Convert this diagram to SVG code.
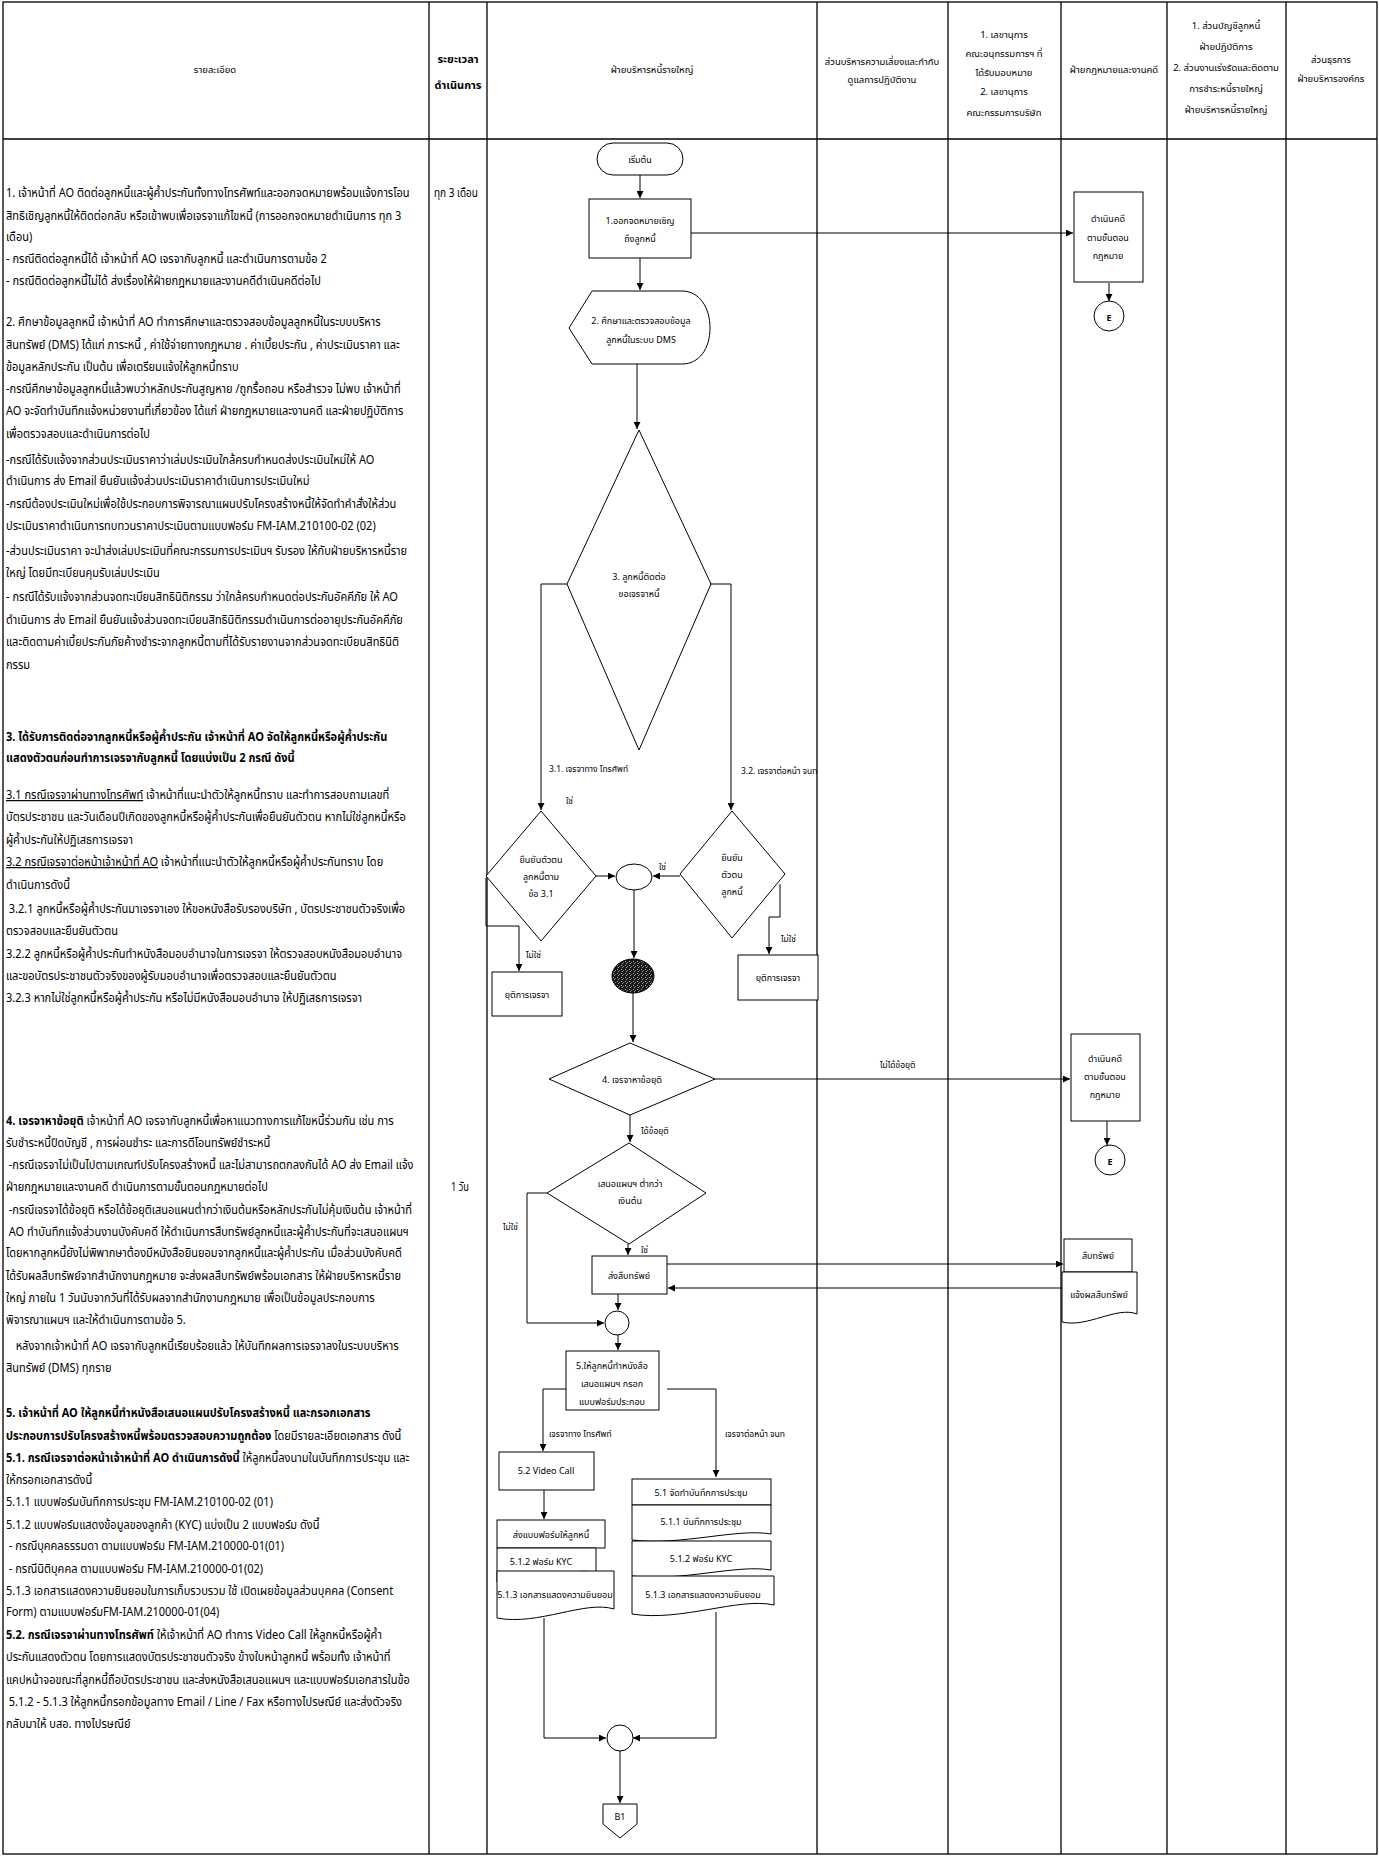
<svg xmlns="http://www.w3.org/2000/svg" width="1379" height="1858" viewBox="0 0 1379 1858">
<style>
text{font-family:"Noto Sans Thai","Tahoma","Noto Sans","DejaVu Sans",sans-serif;fill:#000}
.t{font-size:12px}
.b{font-weight:bold}
.nb{font-weight:normal}
.h{font-size:9.5px;text-anchor:middle}
.hb{font-size:11px;font-weight:bold;text-anchor:middle}
.f{font-size:9px;text-anchor:middle}
.s{font-size:8.5px}
.u{text-decoration:underline}
.lane{stroke:#000;stroke-width:1.3;fill:none}
.c{stroke:#000;stroke-width:1;fill:none;marker-end:url(#ah)}
.n{fill:#fff;stroke:#000;stroke-width:1}
</style>
<defs>
<marker id="ah" viewBox="0 0 8 8" refX="8" refY="4" markerWidth="7" markerHeight="7" markerUnits="userSpaceOnUse" orient="auto"><path d="M0,0 L8,4 L0,8 Z" fill="#000"/></marker>
<pattern id="hatch" width="4" height="4" patternUnits="userSpaceOnUse"><rect width="4" height="4" fill="#1a1a1a"/><rect x="1" y="1" width="1" height="1" fill="#aaa"/><rect x="3" y="2" width="1" height="1" fill="#777"/><rect x="2" y="3" width="1" height="1" fill="#999"/></pattern>
</defs>
<rect width="1379" height="1858" fill="#fff"/>
<g id="lanes">
<rect x="3" y="2" width="1374" height="1852" class="lane"/>
<line x1="3" y1="139" x2="1377" y2="139" class="lane"/>
<line x1="429" y1="2" x2="429" y2="1854" class="lane"/>
<line x1="487" y1="2" x2="487" y2="1854" class="lane"/>
<line x1="817" y1="2" x2="817" y2="1854" class="lane"/>
<line x1="948" y1="2" x2="948" y2="1854" class="lane"/>
<line x1="1061" y1="2" x2="1061" y2="1854" class="lane"/>
<line x1="1167" y1="2" x2="1167" y2="1854" class="lane"/>
<line x1="1286" y1="2" x2="1286" y2="1854" class="lane"/>
</g>
<g id="header">
<text class="h" x="215" y="73">รายละเอียด</text>
<text class="hb" x="458" y="63">ระยะเวลา</text>
<text class="hb" x="458" y="89">ดำเนินการ</text>
<text class="h" x="652" y="73">ฝ่ายบริหารหนี้รายใหญ่</text>
<text class="h" x="882" y="65">ส่วนบริหารความเสี่ยงและกำกับ</text>
<text class="h" x="882" y="83">ดูแลการปฏิบัติงาน</text>
<text class="h" x="1004" y="38">1. เลขานุการ</text>
<text class="h" x="1004" y="57">คณะอนุกรรมการฯ ที่</text>
<text class="h" x="1004" y="76">ได้รับมอบหมาย</text>
<text class="h" x="1004" y="95">2. เลขานุการ</text>
<text class="h" x="1004" y="116">คณะกรรมการบริษัท</text>
<text class="h" x="1114" y="73">ฝ่ายกฎหมายและงานคดี</text>
<text class="h" x="1226" y="29">1. ส่วนบัญชีลูกหนี้</text>
<text class="h" x="1226" y="50">ฝ่ายปฏิบัติการ</text>
<text class="h" x="1226" y="71">2. ส่วนงานเร่งรัดและติดตาม</text>
<text class="h" x="1226" y="92">การชำระหนี้รายใหญ่</text>
<text class="h" x="1226" y="113">ฝ่ายบริหารหนี้รายใหญ่</text>
<text class="h" x="1331" y="63">ส่วนธุรการ</text>
<text class="h" x="1331" y="82">ฝ่ายบริหารองค์กร</text>
</g>
<g id="details" transform="scale(0.92,1)">
<text class="t" x="6.5" y="197">1. เจ้าหน้าที่ AO ติดต่อลูกหนี้และผู้ค้ำประกันทั้งทางโทรศัพท์และออกจดหมายพร้อมแจ้งการโอน</text>
<text class="t" x="6.5" y="220">สิทธิเชิญลูกหนี้ให้ติดต่อกลับ หรือเข้าพบเพื่อเจรจาแก้ไขหนี้ (การออกจดหมายดำเนินการ ทุก 3</text>
<text class="t" x="6.5" y="241">เดือน)</text>
<text class="t" x="6.5" y="263">- กรณีติดต่อลูกหนี้ได้ เจ้าหน้าที่ AO  เจรจากับลูกหนี้ และดำเนินการตามข้อ 2</text>
<text class="t" x="6.5" y="285">- กรณีติดต่อลูกหนี้ไม่ได้ ส่งเรื่องให้ฝ่ายกฎหมายและงานคดีดำเนินคดีต่อไป</text>
<text class="t" x="6.5" y="326">2. ศึกษาข้อมูลลูกหนี้  เจ้าหน้าที่ AO ทำการศึกษาและตรวจสอบข้อมูลลูกหนี้ในระบบบริหาร</text>
<text class="t" x="6.5" y="349">สินทรัพย์ (DMS) ได้แก่ ภาระหนี้ , ค่าใช้จ่ายทางกฎหมาย . ค่าเบี้ยประกัน , ค่าประเมินราคา และ</text>
<text class="t" x="6.5" y="371">ข้อมูลหลักประกัน เป็นต้น เพื่อเตรียมแจ้งให้ลูกหนี้ทราบ</text>
<text class="t" x="6.5" y="393">-กรณีศึกษาข้อมูลลูกหนี้แล้วพบว่าหลักประกันสูญหาย /ถูกรื้อถอน หรือสำรวจ ไม่พบ เจ้าหน้าที่</text>
<text class="t" x="6.5" y="415">AO จะจัดทำบันทึกแจ้งหน่วยงานที่เกี่ยวข้อง ได้แก่ ฝ่ายกฎหมายและงานคดี และฝ่ายปฏิบัติการ</text>
<text class="t" x="6.5" y="438">เพื่อตรวจสอบและดำเนินการต่อไป</text>
<text class="t" x="6.5" y="464">-กรณีได้รับแจ้งจากส่วนประเมินราคาว่าเล่มประเมินใกล้ครบกำหนดส่งประเมินใหม่ให้ AO</text>
<text class="t" x="6.5" y="485">ดำเนินการ ส่ง Email ยืนยันแจ้งส่วนประเมินราคาดำเนินการประเมินใหม่</text>
<text class="t" x="6.5" y="508">-กรณีต้องประเมินใหม่เพื่อใช้ประกอบการพิจารณาแผนปรับโครงสร้างหนี้ให้จัดทำคำสั่งให้ส่วน</text>
<text class="t" x="6.5" y="530">ประเมินราคาดำเนินการทบทวนราคาประเมินตามแบบฟอร์ม FM-IAM.210100-02 (02)</text>
<text class="t" x="6.5" y="555">-ส่วนประเมินราคา จะนำส่งเล่มประเมินที่คณะกรรมการประเมินฯ รับรอง ให้กับฝ่ายบริหารหนี้ราย</text>
<text class="t" x="6.5" y="577">ใหญ่ โดยมีทะเบียนคุมรับเล่มประเมิน</text>
<text class="t" x="6.5" y="601">- กรณีได้รับแจ้งจากส่วนจดทะเบียนสิทธินิติกรรม ว่าใกล้ครบกำหนดต่อประกันอัคคีภัย ให้ AO</text>
<text class="t" x="6.5" y="624">ดำเนินการ ส่ง Email ยืนยันแจ้งส่วนจดทะเบียนสิทธินิติกรรมดำเนินการต่ออายุประกันอัคคีภัย</text>
<text class="t" x="6.5" y="646">และติดตามค่าเบี้ยประกันภัยค้างชำระจากลูกหนี้ตามที่ได้รับรายงานจากส่วนจดทะเบียนสิทธินิติ</text>
<text class="t" x="6.5" y="669">กรรม</text>
<text class="t b" x="6.5" y="741">3. ได้รับการติดต่อจากลูกหนี้หรือผู้ค้ำประกัน เจ้าหน้าที่ AO จัดให้ลูกหนี้หรือผู้ค้ำประกัน</text>
<text class="t b" x="6.5" y="762">แสดงตัวตนก่อนทำการเจรจากับลูกหนี้ โดยแบ่งเป็น 2 กรณี ดังนี้</text>
<text class="t" x="6.5" y="799"><tspan class="u">3.1 กรณีเจรจาผ่านทางโทรศัพท์</tspan> เจ้าหน้าที่แนะนำตัวให้ลูกหนี้ทราบ และทำการสอบถามเลขที่</text>
<text class="t" x="6.5" y="821">บัตรประชาชน และวันเดือนปีเกิดของลูกหนี้หรือผู้ค้ำประกันเพื่อยืนยันตัวตน  หากไม่ใช่ลูกหนี้หรือ</text>
<text class="t" x="6.5" y="844">ผู้ค้ำประกันให้ปฏิเสธการเจรจา</text>
<text class="t" x="6.5" y="866"><tspan class="u">3.2 กรณีเจรจาต่อหน้าเจ้าหน้าที่ AO</tspan>  เจ้าหน้าที่แนะนำตัวให้ลูกหนี้หรือผู้ค้ำประกันทราบ โดย</text>
<text class="t" x="6.5" y="889">ดำเนินการดังนี้</text>
<text class="t" x="9.5" y="913">3.2.1 ลูกหนี้หรือผู้ค้ำประกันมาเจรจาเอง ให้ขอหนังสือรับรองบริษัท , บัตรประชาชนตัวจริงเพื่อ</text>
<text class="t" x="6.5" y="935">ตรวจสอบและยืนยันตัวตน</text>
<text class="t" x="6.5" y="958">3.2.2 ลูกหนี้หรือผู้ค้ำประกันทำหนังสือมอบอำนาจในการเจรจา ให้ตรวจสอบหนังสือมอบอำนาจ</text>
<text class="t" x="6.5" y="980">และขอบัตรประชาชนตัวจริงของผู้รับมอบอำนาจเพื่อตรวจสอบและยืนยันตัวตน</text>
<text class="t" x="6.5" y="1002">3.2.3 หากไม่ใช่ลูกหนี้หรือผู้ค้ำประกัน หรือไม่มีหนังสือมอบอำนาจ ให้ปฏิเสธการเจรจา</text>
<text class="t" x="6.5" y="1125"><tspan class="b">4. เจรจาหาข้อยุติ</tspan> เจ้าหน้าที่ AO เจรจากับลูกหนี้เพื่อหาแนวทางการแก้ไขหนี้ร่วมกัน เช่น  การ</text>
<text class="t" x="6.5" y="1147">รับชำระหนี้ปิดบัญชี , การผ่อนชำระ และการตีโอนทรัพย์ชำระหนี้</text>
<text class="t" x="9.5" y="1169">-กรณีเจรจาไม่เป็นไปตามเกณฑ์ปรับโครงสร้างหนี้ และไม่สามารถตกลงกันได้ AO ส่ง Email แจ้ง</text>
<text class="t" x="6.5" y="1191">ฝ่ายกฎหมายและงานคดี ดำเนินการตามขั้นตอนกฎหมายต่อไป</text>
<text class="t" x="9.5" y="1214">-กรณีเจรจาได้ข้อยุติ หรือได้ข้อยุติเสนอแผนต่ำกว่าเงินต้นหรือหลักประกันไม่คุ้มเงินต้น เจ้าหน้าที่</text>
<text class="t" x="9.5" y="1236">AO ทำบันทึกแจ้งส่วนงานบังคับคดี ให้ดำเนินการสืบทรัพย์ลูกหนี้และผู้ค้ำประกันที่จะเสนอแผนฯ</text>
<text class="t" x="6.5" y="1257">โดยหากลูกหนี้ยังไม่พิพากษาต้องมีหนังสือยินยอมจากลูกหนี้และผู้ค้ำประกัน เมื่อส่วนบังคับคดี</text>
<text class="t" x="6.5" y="1280">ได้รับผลสืบทรัพย์จากสำนักงานกฎหมาย จะส่งผลสืบทรัพย์พร้อมเอกสาร ให้ฝ่ายบริหารหนี้ราย</text>
<text class="t" x="6.5" y="1302">ใหญ่ ภายใน 1 วันนับจากวันที่ได้รับผลจากสำนักงานกฎหมาย เพื่อเป็นข้อมูลประกอบการ</text>
<text class="t" x="6.5" y="1324">พิจารณาแผนฯ และให้ดำเนินการตามข้อ 5.</text>
<text class="t" x="17" y="1350">หลังจากเจ้าหน้าที่ AO เจรจากับลูกหนี้เรียบร้อยแล้ว ให้บันทึกผลการเจรจาลงในระบบบริหาร</text>
<text class="t" x="6.5" y="1372">สินทรัพย์ (DMS) ทุกราย</text>
<text class="t b" x="6.5" y="1417">5.  เจ้าหน้าที่ AO ให้ลูกหนี้ทำหนังสือเสนอแผนปรับโครงสร้างหนี้ และกรอกเอกสาร</text>
<text class="t b" x="6.5" y="1440">ประกอบการปรับโครงสร้างหนี้พร้อมตรวจสอบความถูกต้อง <tspan class="nb">โดยมีรายละเอียดเอกสาร ดังนี้</tspan></text>
<text class="t" x="6.5" y="1462"><tspan class="b">5.1. กรณีเจรจาต่อหน้าเจ้าหน้าที่ AO ดำเนินการดังนี้</tspan> ให้ลูกหนี้ลงนามในบันทึกการประชุม และ</text>
<text class="t" x="6.5" y="1484">ให้กรอกเอกสารดังนี้</text>
<text class="t" x="6.5" y="1506">5.1.1 แบบฟอร์มบันทึกการประชุม  FM-IAM.210100-02 (01)</text>
<text class="t" x="6.5" y="1529">5.1.2 แบบฟอร์มแสดงข้อมูลของลูกค้า (KYC) แบ่งเป็น 2 แบบฟอร์ม ดังนี้</text>
<text class="t" x="9.5" y="1550">- กรณีบุคคลธรรมดา ตามแบบฟอร์ม FM-IAM.210000-01(01)</text>
<text class="t" x="9.5" y="1573">- กรณีนิติบุคคล ตามแบบฟอร์ม FM-IAM.210000-01(02)</text>
<text class="t" x="6.5" y="1595">5.1.3 เอกสารแสดงความยินยอมในการเก็บรวบรวม ใช้ เปิดเผยข้อมูลส่วนบุคคล (Consent</text>
<text class="t" x="6.5" y="1616">Form) ตามแบบฟอร์มFM-IAM.210000-01(04)</text>
<text class="t" x="6.5" y="1639"><tspan class="b">5.2. กรณีเจรจาผ่านทางโทรศัพท์</tspan> ให้เจ้าหน้าที่ AO ทำการ Video Call ให้ลูกหนี้หรือผู้ค้ำ</text>
<text class="t" x="6.5" y="1661">ประกันแสดงตัวตน โดยการแสดงบัตรประชาชนตัวจริง ข้างใบหน้าลูกหนี้ พร้อมทั้ง เจ้าหน้าที่</text>
<text class="t" x="6.5" y="1684">แคปหน้าจอขณะที่ลูกหนี้ถือบัตรประชาชน และส่งหนังสือเสนอแผนฯ และแบบฟอร์มเอกสารในข้อ</text>
<text class="t" x="9.5" y="1706">5.1.2 - 5.1.3 ให้ลูกหนี้กรอกข้อมูลทาง Email / Line / Fax หรือทางไปรษณีย์ และส่งตัวจริง</text>
<text class="t" x="6.5" y="1728">กลับมาให้ บสอ. ทางไปรษณีย์</text>
</g>
<g id="duration">
<text class="t" x="434" y="197" textLength="44" lengthAdjust="spacingAndGlyphs">ทุก 3 เดือน</text>
<text class="t" x="451" y="1191" textLength="18" lengthAdjust="spacingAndGlyphs">1 วัน</text>
</g>
<g id="connectors">
<path class="c" d="M640 175 V198"/>
<path class="c" d="M691 233 H1073"/>
<path class="c" d="M1109 283 V301"/>
<path class="c" d="M640 258 V290"/>
<path class="c" d="M637 364 V429"/>
<path class="c" d="M567 584 H541 V810"/>
<path class="c" d="M711 584 H731 V810"/>
<path class="c" d="M596 876 H615"/>
<path class="c" d="M680 876 H653"/>
<path class="c" d="M486 878 V926 H519 V971"/>
<path class="c" d="M780 884 V917 H769 V954"/>
<path class="c" d="M634 890 V958"/>
<path class="c" d="M633 993 V1042"/>
<path class="c" d="M715 1079 H1070"/>
<path class="c" d="M1107 1121 V1145"/>
<path class="c" d="M630 1115 V1142"/>
<path class="c" d="M547 1193 H527 V1323 H604"/>
<path class="c" d="M628 1244 V1255"/>
<path class="c" d="M667 1264 H1063"/>
<path class="c" d="M1062 1288 H668"/>
<path class="c" d="M618 1294 V1310"/>
<path class="c" d="M618 1335 V1350"/>
<path class="c" d="M567 1389 H543 V1451"/>
<path class="c" d="M667 1389 H716 V1477"/>
<path class="c" d="M544 1490 V1519"/>
<path class="c" d="M544 1618 V1738 H606"/>
<path class="c" d="M716 1612 V1738 H633"/>
<path class="c" d="M620 1751 V1803"/>
<text class="s" x="549" y="772">3.1. เจรจาทาง โทรศัพท์</text>
<text class="s" x="566" y="804">ใช่</text>
<text class="s" x="741" y="774">3.2. เจรจาต่อหน้า จนท</text>
<text class="s" x="659" y="870">ใช่</text>
<text class="s" x="526" y="958">ไม่ใช่</text>
<text class="s" x="781" y="942">ไม่ใช่</text>
<text class="s" x="880" y="1068">ไม่ได้ข้อยุติ</text>
<text class="s" x="641" y="1134">ได้ข้อยุติ</text>
<text class="s" x="503" y="1230">ไม่ใช่</text>
<text class="s" x="641" y="1253">ใช่</text>
<text class="s" x="549" y="1437">เจรจาทาง โทรศัพท์</text>
<text class="s" x="725" y="1437">เจรจาต่อหน้า จนท</text>
</g>
<g id="start"><rect class="n" x="597" y="143" width="86" height="32" rx="16"/><text class="f" x="640" y="163">เริ่มต้น</text></g>
<g id="step1"><rect class="n" x="589" y="199" width="102" height="59"/><text class="f" x="640" y="224">1.ออกจดหมายเชิญ</text><text class="f" x="640" y="242">ถึงลูกหนี้</text></g>
<g id="legal1"><rect class="n" x="1074" y="192" width="69" height="90"/><text class="f" x="1108" y="222">ดำเนินคดี</text><text class="f" x="1108" y="241">ตามขั้นตอน</text><text class="f" x="1108" y="259">กฎหมาย</text></g>
<g id="end1"><circle class="n" cx="1109" cy="316" r="15" stroke-width="1.5"/><text class="f b" x="1109" y="321" font-size="12">E</text></g>
<g id="step2"><path class="n" d="M569 328 L592 291 H682 C699 291 710 307 710 328 C710 349 699 364 682 364 H592 Z"/><text class="f" x="641" y="324">2. ศึกษาและตรวจสอบข้อมูล</text><text class="f" x="641" y="343">ลูกหนี้ในระบบ DMS</text></g>
<g id="step3"><path class="n" d="M639 430 L711 584 L639 750 L567 584 Z"/><text class="f" x="639" y="580">3. ลูกหนี้ติดต่อ</text><text class="f" x="639" y="597">ขอเจรจาหนี้</text></g>
<g id="verify31"><path class="n" d="M541 811 L596 876 L541 941 L486 876 Z"/><text class="f" x="541" y="863">ยืนยันตัวตน</text><text class="f" x="541" y="880">ลูกหนี้ตาม</text><text class="f" x="541" y="897">ข้อ 3.1</text></g>
<g id="verify32"><path class="n" d="M732 811 L785 874 L732 938 L680 874 Z"/><text class="f" x="732" y="861">ยืนยัน</text><text class="f" x="732" y="878">ตัวตน</text><text class="f" x="732" y="895">ลูกหนี้</text></g>
<g id="join1"><ellipse class="n" cx="634" cy="877" rx="18" ry="13"/></g>
<g id="stop1"><rect class="n" x="492" y="972" width="70" height="44"/><text class="f" x="527" y="998">ยุติการเจรจา</text></g>
<g id="stop2"><rect class="n" x="738" y="955" width="80" height="45"/><text class="f" x="778" y="981">ยุติการเจรจา</text></g>
<g id="hatchnode"><ellipse cx="633" cy="976" rx="21" ry="17" fill="url(#hatch)" stroke="#000"/></g>
<g id="step4"><path class="n" d="M630 1043 L715 1079 L630 1115 L549 1079 Z"/><text class="f" x="632" y="1083">4. เจรจาหาข้อยุติ</text></g>
<g id="legal2"><rect class="n" x="1071" y="1034" width="69" height="87"/><text class="f" x="1105" y="1062">ดำเนินคดี</text><text class="f" x="1105" y="1080">ตามขั้นตอน</text><text class="f" x="1105" y="1098">กฎหมาย</text></g>
<g id="end2"><circle class="n" cx="1110" cy="1160" r="15" stroke-width="1.5"/><text class="f b" x="1110" y="1165" font-size="12">E</text></g>
<g id="step4b"><path class="n" d="M629 1143 L706 1193 L629 1244 L547 1193 Z"/><text class="f" x="630" y="1187">เสนอแผนฯ ต่ำกว่า</text><text class="f" x="630" y="1204">เงินต้น</text></g>
<g id="asset"><rect class="n" x="592" y="1256" width="75" height="38"/><text class="f" x="629" y="1279">ส่งสืบทรัพย์</text></g>
<g id="doc-asset"><rect class="n" x="1064" y="1239" width="68" height="33"/><text class="f" x="1098" y="1259">สืบทรัพย์</text></g>
<g id="doc-result"><path class="n" d="M1062 1272 H1137 V1314 C1116 1306 1088 1328 1062 1322 Z"/><text class="f" x="1099" y="1298">แจ้งผลสืบทรัพย์</text></g>
<g id="join2"><circle class="n" cx="617" cy="1323" r="12"/></g>
<g id="step5"><rect class="n" x="566" y="1351" width="93" height="59"/><text class="f" x="612" y="1369">5.ให้ลูกหนี้ทำหนังสือ</text><text class="f" x="612" y="1387">เสนอแผนฯ กรอก</text><text class="f" x="612" y="1405">แบบฟอร์มประกอบ</text></g>
<g id="video"><rect class="n" x="499" y="1452" width="95" height="38"/><text class="f" x="546" y="1474">5.2 Video Call</text></g>
<g id="sendform"><rect class="n" x="497" y="1520" width="108" height="28"/><text class="f" x="551" y="1538" font-size="10">ส่งแบบฟอร์มให้ลูกหนี้</text></g>
<g id="kyc-l"><path class="n" d="M497 1548 H596 V1573 C572 1565 532 1588 497 1582 Z"/><text class="f" x="541" y="1565" font-size="8">5.1.2 ฟอร์ม KYC</text></g>
<g id="consent-l"><path class="n" d="M497 1571 H614 V1609 C585 1600 538 1626 497 1618 Z"/><text class="f" x="555" y="1598" font-size="8">5.1.3 เอกสารแสดงความยินยอม</text></g>
<g id="meeting"><rect class="n" x="632" y="1479" width="139" height="26"/><text class="f" x="701" y="1496">5.1 จัดทำบันทึกการประชุม</text></g>
<g id="doc511"><path class="n" d="M632 1505 H771 V1534 C737 1528 681 1546 632 1540 Z"/><text class="f" x="701" y="1525" font-size="8">5.1.1 บันทึกการประชุม</text></g>
<g id="doc512"><path class="n" d="M632 1541 H771 V1570 C737 1564 681 1582 632 1576 Z"/><text class="f" x="701" y="1562" font-size="8">5.1.2 ฟอร์ม KYC</text></g>
<g id="doc513"><path class="n" d="M632 1576 H774 V1605 C739 1597 681 1622 632 1614 Z"/><text class="f" x="703" y="1598" font-size="8">5.1.3 เอกสารแสดงความยินยอม</text></g>
<g id="join3"><circle class="n" cx="620" cy="1738" r="13"/></g>
<g id="offpage"><path class="n" d="M603 1804 H637 V1824 L620 1838 L603 1824 Z"/><text class="f" x="620" y="1820" font-size="8">B1</text></g>
</svg>
